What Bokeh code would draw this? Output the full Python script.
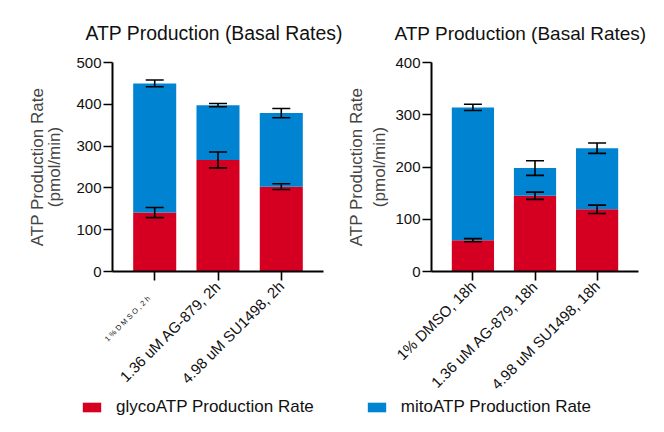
import math
from bokeh.plotting import figure
from bokeh.models import (Range1d, FixedTicker, Whisker, TeeHead, ColumnDataSource,
                          LinearAxis, Legend, LegendItem)
from bokeh.layouts import column, row
from bokeh.embed import file_html
from bokeh.resources import INLINE

# ---------------- data ----------------
left_categories = ["1% DMSO, 2h", "1.36 uM AG-879, 2h", "4.98 uM SU1498, 2h"]
left_glyco = [141, 267, 203]
left_glyco_sd = [12, 19, 7]
left_mito = [309, 131, 176]
left_mito_sd = [8, 4, 11]

right_categories = ["1% DMSO, 18h", "1.36 uM AG-879, 18h", "4.98 uM SU1498, 18h"]
right_glyco = [60, 145, 119]
right_glyco_sd = [3, 7, 8]
right_mito = [254, 53, 117]
right_mito_sd = [6, 14, 10]

left_yticks = [0, 100, 200, 300, 400, 500]
right_yticks = [0, 100, 200, 300, 400]

title_text = "ATP Production (Basal Rates)"
y_label = "ATP Production Rate\n(pmol/min)"
legend_labels = ["glycoATP Production Rate", "mitoATP Production Rate"]

RED = "#D50021"
BLUE = "#0084D1"
FONT = "Liberation Sans"
H = 404


def make_panel(cats, glyco, gsd, mito, msd, yticks, width, bl, br, bt, bb,
               title_size, title_offset, label_lh, label_standoff,
               small_first=False):
    n = len(cats)
    xs = list(range(n))
    tops = [g + m for g, m in zip(glyco, mito)]
    p = figure(width=width, height=H, output_backend="svg", toolbar_location=None,
               x_range=Range1d(-0.667, n - 1 + 0.667),
               y_range=Range1d(0, yticks[-1]),
               min_border_left=bl, min_border_right=br, min_border_top=bt,
               min_border_bottom=bb)
    p.outline_line_color = None
    p.grid.visible = False
    p.background_fill_color = "white"
    p.border_fill_color = "white"

    src = ColumnDataSource(dict(x=xs, glyco=glyco, top=tops,
                                gl=[g - s for g, s in zip(glyco, gsd)],
                                gu=[g + s for g, s in zip(glyco, gsd)],
                                ml=[t - s for t, s in zip(tops, msd)],
                                mu=[t + s for t, s in zip(tops, msd)]))
    p.vbar(x="x", width=0.68, bottom=0, top="glyco", source=src,
           fill_color=RED, line_color=None)
    p.vbar(x="x", width=0.68, bottom="glyco", top="top", source=src,
           fill_color=BLUE, line_color=None)
    for lo, up in (("gl", "gu"), ("ml", "mu")):
        w = Whisker(base="x", lower=lo, upper=up, source=src, dimension="height",
                    line_color="black", line_width=1.6, level="overlay",
                    lower_head=TeeHead(size=18, line_color="black", line_width=1.6),
                    upper_head=TeeHead(size=18, line_color="black", line_width=1.6))
        p.add_layout(w)

    p.title.text = title_text
    p.title.text_font = FONT
    p.title.text_font_size = title_size
    p.title.text_font_style = "normal"
    p.title.text_color = "#111111"
    p.title.align = "left"
    p.title.offset = title_offset
    p.title.standoff = 37

    ya = p.yaxis[0]
    ya.ticker = FixedTicker(ticks=yticks)
    ya.minor_tick_line_color = None
    ya.major_tick_out = 9
    ya.major_tick_in = 0
    ya.major_tick_line_width = 1.6
    ya.axis_line_width = 2
    ya.major_label_text_font = FONT
    ya.major_label_text_font_size = "15px"
    ya.major_label_text_color = "#111111"
    ya.major_label_standoff = 2
    ya.axis_label = y_label
    ya.axis_label_text_font = FONT
    ya.axis_label_text_font_size = "17px"
    ya.axis_label_text_font_style = "normal"
    ya.axis_label_text_color = "#444444"
    ya.axis_label_text_line_height = label_lh
    ya.axis_label_standoff = label_standoff

    xa = p.xaxis[0]
    xa.ticker = FixedTicker(ticks=xs)
    xa.minor_tick_line_color = None
    xa.major_tick_out = 9
    xa.major_tick_in = 0
    xa.major_tick_line_width = 1.6
    xa.axis_line_width = 2
    xa.major_label_text_font = FONT
    xa.major_label_text_font_size = "15px"
    xa.major_label_text_color = "#111111"
    xa.major_label_orientation = math.pi / 4
    xa.major_label_standoff = 3
    overrides = {i: c for i, c in enumerate(cats)}
    if small_first:
        overrides[0] = ""
        spaced = " ".join(list(cats[0]))
        xb = LinearAxis(ticker=FixedTicker(ticks=[xs[0]]),
                        major_label_overrides={xs[0]: spaced},
                        axis_line_color=None, major_tick_line_color=None,
                        minor_tick_line_color=None, major_tick_out=0,
                        major_tick_in=0,
                        major_label_orientation=math.pi / 4,
                        major_label_standoff=-104,
                        major_label_text_font=FONT,
                        major_label_text_font_size="7.5px",
                        major_label_text_color="#222222")
        p.add_layout(xb, "below")
    xa.major_label_overrides = overrides
    return p


p1 = make_panel(left_categories, left_glyco, left_glyco_sd, left_mito, left_mito_sd,
                left_yticks, 344, 112, 21, 62, H - 272, "19.4px", -27, 0.9, 9,
                small_first=True)
p2 = make_panel(right_categories, right_glyco, right_glyco_sd, right_mito, right_mito_sd,
                right_yticks, 304, 84, 10, 61, H - 271, "19px", -37, 1.22, 3)

# legend strip (pulled up so that it overlaps the bottom border of the panels)
lf = figure(width=648, height=22, output_backend="svg", toolbar_location=None,
            x_range=Range1d(0, 1), y_range=Range1d(0, 1), min_border=0,
            margin=(416 - H - 22, 0, 0, 0))
lf.axis.visible = False
lf.grid.visible = False
lf.outline_line_color = None
lf.border_fill_alpha = 0
lf.background_fill_alpha = 0
r_red = lf.rect(x=[5], y=[5], width=1, height=1, fill_color=RED, line_color=None)
r_blue = lf.rect(x=[5], y=[5], width=1, height=1, fill_color=BLUE, line_color=None)
leg = Legend(items=[LegendItem(label=legend_labels[0], renderers=[r_red]),
                    LegendItem(label=legend_labels[1], renderers=[r_blue])],
             orientation="horizontal", location=(80, -1),
             glyph_width=23, glyph_height=12, label_standoff=13, spacing=51,
             padding=0, margin=0, border_line_color=None,
             background_fill_alpha=0, label_text_font=FONT,
             label_text_font_size="17px", label_text_color="#111111",
             label_height=12)
lf.add_layout(leg, "center")

layout = column(row(p1, p2), lf)
open("out.html", "w").write(file_html(layout, INLINE))
